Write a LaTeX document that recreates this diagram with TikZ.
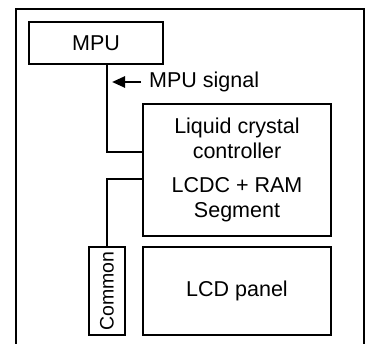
\documentclass[tikz,border=0pt]{standalone}
\usepackage{fontspec}
\setmainfont{Liberation Sans}
\usetikzlibrary{arrows.meta,positioning,calc}

\begin{document}
\begin{tikzpicture}[x=1pt,y=-1pt,
  block/.style={draw, line width=1.2pt, inner sep=0pt, align=center,
    font=\fontsize{21.5}{25}\selectfont},
  wire/.style={line width=2.5pt},
  label/.style={inner sep=0pt, font=\fontsize{21.5}{25}\selectfont}]
\useasboundingbox (0,0) rectangle (371,344);
% outer frame, open at the bottom
\draw [line width=1.2pt] (16,344) -- (16,9) -- (364,9) -- (364,344);

\node [block, minimum width=134, minimum height=42] (mpu) at (96,43) {MPU};
\node [block, minimum width=188, minimum height=132] (ctrl) at (237,170)
  {Liquid crystal\\controller\\[9pt]LCDC + RAM\\Segment};
\node [block, minimum width=188, minimum height=88] (lcd) at (237,291) {LCD panel};
\node [block, minimum width=36, minimum height=88, font=\fontsize{19.5}{23}\selectfont]
  (common) at (107,291) {\rotatebox{90}{Common}};

\draw [wire] (mpu.south -| common.north) |- ([yshift=18pt]ctrl.west);
\draw [wire] (common.north) |- ([yshift=-9pt]ctrl.west);

\node [label, anchor=west] (sig) at (149,82) {MPU signal};
\coordinate (tip) at (112,82);
\draw [wire, -{Triangle[length=13pt,width=11pt]}] ([xshift=-8pt]sig.west) -- (tip);

\end{tikzpicture}
\end{document}
